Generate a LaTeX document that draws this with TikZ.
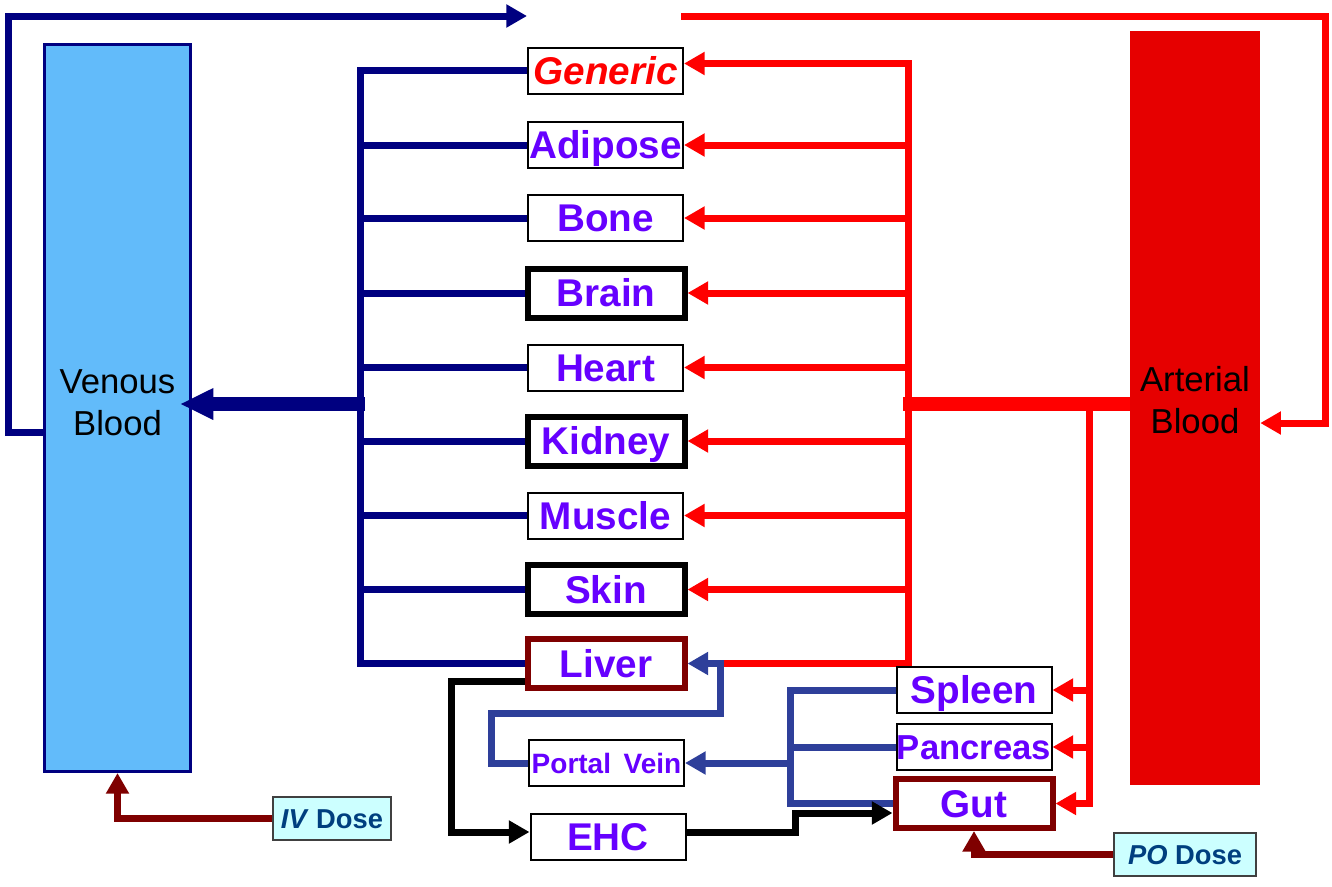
\documentclass[tikz,border=0pt]{standalone}
\usepackage{fontspec}
\setmainfont{Liberation Sans}
\usetikzlibrary{arrows.meta,backgrounds}
\definecolor{venblue}{HTML}{000080}
\definecolor{artred}{HTML}{FF0000}
\definecolor{artfill}{HTML}{E60000}
\definecolor{venfill}{HTML}{62BBFA}
\definecolor{organ}{HTML}{6600FF}
\definecolor{darkmaroon}{HTML}{7F0000}
\definecolor{portalblue}{HTML}{2E3F9A}
\definecolor{dosefill}{HTML}{CCFFFF}
\definecolor{dosetext}{HTML}{003F7F}
\definecolor{doseframe}{HTML}{404040}

\begin{document}
\begin{tikzpicture}[x=0.75pt,y=-0.75pt,
  box/.style={draw=black, line width=1.5pt, fill=white, inner sep=0pt,
    minimum width=116.25pt, minimum height=34.5pt, text=organ,
    font=\bfseries\fontsize{29}{29}\selectfont, text height=20.8pt, text depth=0pt},
  thickbox/.style={box, line width=4.5pt, minimum width=117.75pt, minimum height=36.75pt},
  liverbox/.style={thickbox, draw=darkmaroon},
  dosebox/.style={draw=doseframe, line width=1.5pt, fill=dosefill, inner sep=0pt,
    minimum height=32.25pt, text=dosetext,
    font=\bfseries\fontsize{20.5}{20.5}\selectfont, text height=14.7pt, text depth=0pt},
  bloodlbl/.style={align=center, font=\fontsize{26}{31.5}\selectfont, text=black},
  tip/.style={-{Triangle[length=15.5pt,width=16.5pt]}},
  ven/.style={draw=venblue, line width=5.25pt},
  art/.style={draw=artred, line width=5.25pt},
  pv/.style={draw=portalblue, line width=5.25pt},
  bile/.style={draw=black, line width=5.25pt},
  dose/.style={draw=darkmaroon, line width=5.25pt},
]
\useasboundingbox (0,0) rectangle (1332,886);

% blood pools
\node[draw=venblue, line width=2.25pt, fill=venfill, minimum width=109.5pt,
      minimum height=545.25pt, inner sep=0pt] (venous) at (117.5,408) {};
\node[bloodlbl] (venlbl) at (117.5,403) {Venous\\Blood};
\node[fill=artfill, minimum width=97.5pt, minimum height=565.5pt, inner sep=0pt]
      (arterial) at (1195,408) {};
\node[bloodlbl] (artlbl) at (1195,400) {Arterial\\Blood};

% tissue compartments
\node[box, text=artred, font=\bfseries\itshape\fontsize{29}{29}\selectfont] (generic) at (605.5,70.5) {Generic};
\node[box] (adipose) at (605.5,145) {Adipose};
\node[box] (bone) at (605.5,218) {Bone};
\node[thickbox] (brain) at (606,293) {Brain};
\node[box] (heart) at (605.5,367.5) {Heart};
\node[thickbox] (kidney) at (606,441) {Kidney};
\node[box] (muscle) at (605.5,515.5) {Muscle};
\node[thickbox] (skin) at (606,589.5) {Skin};
\node[liverbox] (liver) at (606,663.5) {Liver};
\node[box, font=\bfseries\fontsize{21}{21}\selectfont, text height=15pt] (portal) at (606.5,763) {Portal\hspace{0.45em}Vein};
\node[box] (ehc) at (608,837) {EHC};
\node[box] (spleen) at (974,690) {Spleen};
\node[box, font=\bfseries\fontsize{26}{26}\selectfont, text height=18.7pt] (pancreas) at (974,747) {Pancreas};
\node[liverbox] (gut) at (974,803.5) {Gut};

% dosing
\node[dosebox, minimum width=88.5pt] (iv) at (332,818.5) {\textit{IV} Dose};
\node[dosebox, minimum width=106.5pt] (po) at (1185,854.5) {\textit{PO} Dose};

% routing points
\coordinate (vtop) at (360,70.5);
\coordinate (vjoin) at (365,404);
\coordinate (loopL) at (8,432);
\coordinate (loopT) at (8,16);
\coordinate (vout) at (527,16);
\coordinate (ain) at (681,16);
\coordinate (loopR) at (1325,16);
\coordinate (loopRB) at (1325,423);
\coordinate (rtop) at (908,63.5);
\coordinate (rbot) at (908,663.5);
\coordinate (rjoin) at (903,404);
\coordinate (r2top) at (1089,404);
\coordinate (pvA) at (720,663.5);
\coordinate (pvB) at (720,713);
\coordinate (pvC) at (491,713);
\coordinate (sbus) at (790,690);
\coordinate (ehA) at (451,681);
\coordinate (ehB) at (451,832);
\coordinate (ehC) at (795,832);
\coordinate (ehD) at (795,813);

\begin{scope}[on background layer]
  % venous return
  \draw[ven] (generic.west) -- (vtop) -- (vtop |- liver) -- (liver.west);
  \foreach \o in {adipose,bone,brain,heart,kidney,muscle,skin}
    \draw[ven] (\o.west) -- (\o.west -| vtop);
  \draw[ven,tip] (venous.west |- loopL) -- (loopL) -- (loopT) -- (vout);

  % arterial supply
  \draw[art,tip] (ain) -- (loopR) -- (loopRB) -- (arterial.east |- loopRB);
  \draw[art,tip] (pvA) -- (rbot) -- (rtop) -- (generic.east |- rtop);
  \foreach \o in {adipose,bone,brain,heart,kidney,muscle,skin}
    \draw[art,tip] (rtop |- \o) -- (\o.east);
  \draw[art,line width=11pt] (arterial.west |- rjoin) -- (rjoin);
  \draw[art,tip] (r2top) -- (r2top |- gut) -- (gut.east);
  \draw[art,tip] (r2top |- spleen) -- (spleen.east);
  \draw[art,tip] (r2top |- pancreas) -- (pancreas.east);

  % splanchnic drainage
  \draw[pv] (spleen.west) -- (sbus) -- (sbus |- gut) -- (gut.west);
  \draw[pv] (pancreas.west) -- (pancreas.west -| sbus);
  \draw[pv,tip] (sbus |- portal) -- (portal.east);
  \draw[pv,tip] (portal.west) -- (portal.west -| pvC) -- (pvC) -- (pvB) -- (pvA) -- (liver.east);

  % enterohepatic circulation
  \draw[bile,tip] (liver.west |- ehA) -- (ehA) -- (ehB) -- (ehB -| ehc.west);
  \draw[bile,tip] (ehc.east |- ehC) -- (ehC) -- (ehD) -- (ehD -| gut.west);

  % doses
  \draw[dose,tip] (iv.west) -| (venous.south);
  \draw[dose,tip] (po.west) -| (gut.south);
\end{scope}

% collected venous outflow
\draw[ven,line width=10pt,-{Triangle[length=25pt,width=22pt]},shorten >=-9pt]
  (vjoin) -- (venous.east |- vjoin);
\end{tikzpicture}
\end{document}
